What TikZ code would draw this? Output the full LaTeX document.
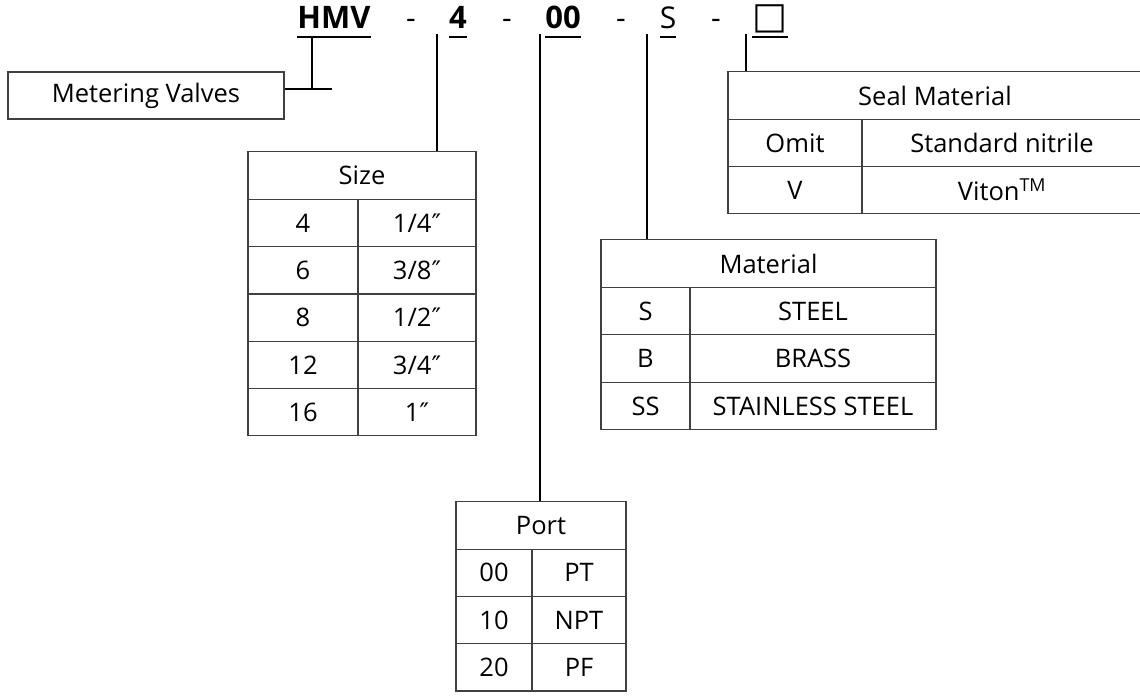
\documentclass[tikz,border=0pt]{standalone}
\usepackage{fontspec}
\setmainfont{Open Sans}
\newfontfamily\symf{DejaVu Sans}
\usetikzlibrary{calc}
\newcommand\dprime{{\symf ″}}
\tikzset{
  cell/.style={draw=black!75, line width=1.2pt, rectangle, inner sep=0pt, font=\fontsize{25.5}{28}\selectfont},
  code/.style={inner sep=0pt, anchor=base, font=\fontsize{30}{32}\selectfont},
  codeb/.style={code, font=\fontsize{31}{32}\selectfont\bfseries},
  conn/.style={line width=2pt, black},
  uline/.style={line width=1.6pt, black}
}
\newcommand\tcell[6]{\node[cell, minimum width=#4pt, minimum height=#5pt] (#1) at (#2,#3) {#6};}
\begin{document}
\begin{tikzpicture}[x=1pt,y=-1pt]
\useasboundingbox (0,0) rectangle (1140,697);
% code line
\node[codeb] (hmv) at (334,28) {HMV};
\node[code] (d1) at (411,28) {-};
\node[codeb] (c4) at (458,28) {4};
\node[code] (d2) at (507,28) {-};
\node[codeb] (c00) at (563,28) {00};
\node[code] (d3) at (621,28) {-};
\node[code] (cs) at (668,28) {S};
\node[code] (d4) at (716,28) {-};
\node[code] (cbox) at (770,28) {\fontsize{37}{38}\selectfont\symf □};
\foreach \n in {hmv,c4,c00,cs,cbox}{
  \draw[uline] ($(\n.base west)+(0,9)$) -- ($(\n.base east)+(0,9)$);
}
% metering valves
\tcell{mv}{146}{95.5}{276}{47}{Metering Valves}
\coordinate (hmvdown) at (312,37);
\coordinate (mvj) at (312,89);
\coordinate (mvr) at (332,89);
\draw[conn] (hmvdown) -- (mvj);
\draw[conn] (mvj -| mv.east) -- (mvr);
% size table
\tcell{szh}{362}{175.5}{228}{47.3}{Size}
\tcell{sa1}{303}{223}{110}{47.3}{4}   \tcell{sb1}{417}{223}{118}{47.3}{1/4\dprime}
\tcell{sa2}{303}{270.3}{110}{47.3}{6} \tcell{sb2}{417}{270.3}{118}{47.3}{3/8\dprime}
\tcell{sa3}{303}{317.6}{110}{47.3}{8} \tcell{sb3}{417}{317.6}{118}{47.3}{1/2\dprime}
\tcell{sa4}{303}{364.9}{110}{47.3}{12} \tcell{sb4}{417}{364.9}{118}{47.3}{3/4\dprime}
\tcell{sa5}{303}{412.2}{110}{47.3}{16} \tcell{sb5}{417}{412.2}{118}{47.3}{1\dprime}
\coordinate (k4) at (437,34);
\draw[conn] (k4) -- (k4 |- szh.north);
% port table
\tcell{pth}{541}{525.5}{170}{47.3}{Port}
\tcell{pa1}{494}{572.8}{76}{47.3}{00} \tcell{pb1}{579}{572.8}{94}{47.3}{PT}
\tcell{pa2}{494}{620.1}{76}{47.3}{10} \tcell{pb2}{579}{620.1}{94}{47.3}{NPT}
\tcell{pa3}{494}{667.4}{76}{47.3}{20} \tcell{pb3}{579}{667.4}{94}{47.3}{PF}
\coordinate (k00) at (540,34);
\draw[conn] (k00) -- (k00 |- pth.north);
% material table
\tcell{mth}{768.5}{263.5}{335}{47.5}{Material}
\tcell{ma1}{645.5}{311}{89}{47.5}{S}   \tcell{mb1}{813}{311}{246}{47.5}{STEEL}
\tcell{ma2}{645.5}{358.5}{89}{47.5}{B} \tcell{mb2}{813}{358.5}{246}{47.5}{BRASS}
\tcell{ma3}{645.5}{406}{89}{47.5}{SS}  \tcell{mb3}{813}{406}{246}{47.5}{STAINLESS STEEL}
\coordinate (ks) at (647,34);
\draw[conn] (ks) -- (ks |- mth.north);
% seal table
\tcell{sth}{935}{95.5}{414}{47.3}{Seal Material}
\tcell{sa}{795}{142.8}{134}{47.3}{Omit} \tcell{sb}{1002}{142.8}{280}{47.3}{Standard nitrile}
\tcell{sc}{795}{190.1}{134}{47.3}{V}    \tcell{sd}{1002}{190.1}{280}{47.3}{Viton\textsuperscript{TM}}
\coordinate (kb) at (746,34);
\draw[conn] (kb) -- (kb |- sth.north);
\end{tikzpicture}
\end{document}
